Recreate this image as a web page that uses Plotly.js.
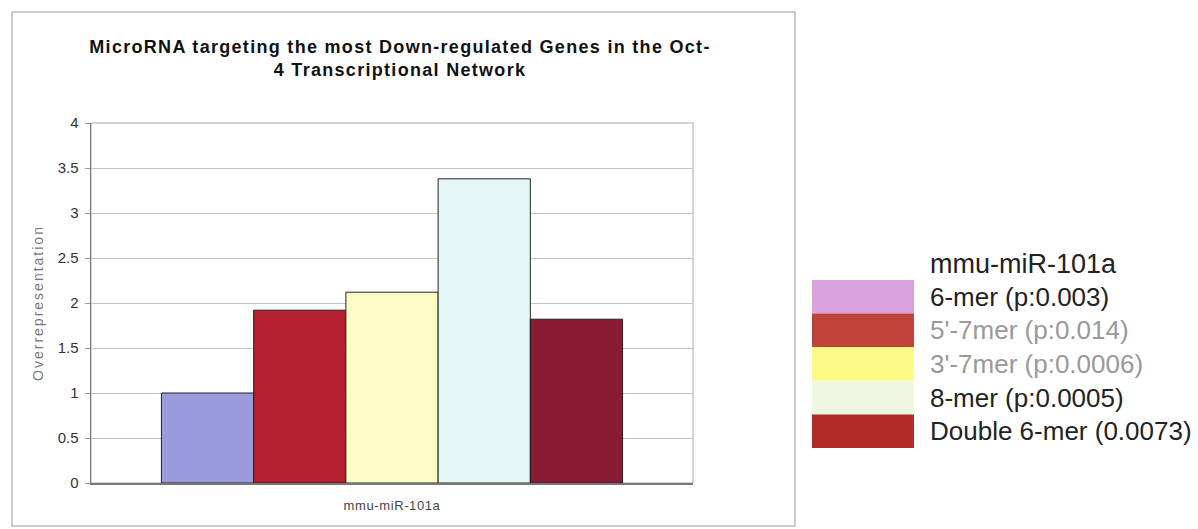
<!DOCTYPE html>
<html><head><meta charset="utf-8">
<script src="https://cdn.plot.ly/plotly-3.0.1.min.js"></script>
<style>
html,body{margin:0;padding:0;background:#fff}#chart{width:1198px;height:529px}
.gtitle{letter-spacing:1.3px}
.ytitle{letter-spacing:2px}
.xtick text{letter-spacing:0.6px}
</style>
</head><body><div id="chart"></div>
<script>
const category = ['mmu-miR-101a'];
const seriesNames = ['6-mer (p:0.003)', "5'-7mer (p:0.014)", "3'-7mer (p:0.0006)", '8-mer (p:0.0005)', 'Double 6-mer (0.0073)'];
const seriesValues = [1.0, 1.92, 2.12, 3.38, 1.82];
const barColors = ['#9b9bdc', '#b4202f', '#fdfcc4', '#e5f6f6', '#8a1935'];
const legendSwatchColors = ['#d9a2dc', '#c0433a', '#fdfb86', '#eef7e0', '#b22a28'];
const legendTextColors = ['#222', '#999', '#999', '#222', '#222'];
const legendHeader = 'mmu-miR-101a';
const yTicks = [0, 0.5, 1, 1.5, 2, 2.5, 3, 3.5, 4];

const L = 91, R = 693, T = 123, B = 483, W = 1198, H = 529;
const px = x => (x - L) / (R - L);
const py = y => (B - y) / (B - T);

const traces = seriesNames.map((n, i) => ({
  type: 'bar', name: n, x: category, y: [seriesValues[i]],
  marker: {color: barColors[i], line: {color: '#222', width: 1}},
  hoverinfo: 'name+y'
}));

const shapes = [
  {type: 'rect', xref: 'paper', yref: 'paper', x0: px(12), x1: px(795), y0: py(526), y1: py(12),
   line: {color: '#bbb', width: 1.5}, fillcolor: 'rgba(0,0,0,0)', layer: 'below'},
  {type: 'rect', xref: 'paper', yref: 'paper', x0: 0, x1: 1, y0: 0, y1: 1,
   line: {color: '#aaa', width: 1}, fillcolor: 'rgba(0,0,0,0)', layer: 'below'}
];
const legendFont = 'Arial, Liberation Sans';
const annotations = [
  {xref: 'paper', yref: 'paper', x: px(928), y: py(264), xanchor: 'left', yanchor: 'middle',
   text: legendHeader, showarrow: false, font: {family: legendFont, size: 27, color: '#222'}}
];
const rowTop = 280, rowH = 33.6;
seriesNames.forEach((n, i) => {
  const y0 = rowTop + i * rowH, y1 = y0 + rowH;
  shapes.push({type: 'rect', xref: 'paper', yref: 'paper', x0: px(812), x1: px(914), y0: py(y1), y1: py(y0),
    line: {width: 0}, fillcolor: legendSwatchColors[i]});
  annotations.push({xref: 'paper', yref: 'paper', x: px(928), y: py((y0 + y1) / 2), xanchor: 'left', yanchor: 'middle',
    text: n, showarrow: false, font: {family: legendFont, size: 26, color: legendTextColors[i]}});
});

const layout = {
  width: W, height: H,
  margin: {l: L, r: W - R, t: T, b: H - B, pad: 0},
  paper_bgcolor: '#fff', plot_bgcolor: '#fff',
  showlegend: false,
  barmode: 'group', bargap: 0.234, bargroupgap: 0,
  title: {text: 'MicroRNA targeting the most Down-regulated Genes in the Oct-<br>4 Transcriptional Network',
    font: {family: 'Arial, Liberation Sans', size: 18, color: '#111', weight: 'bold'},
    x: px(400), xref: 'paper', xanchor: 'center', y: 1 - 53 / H, yref: 'container', yanchor: 'middle'},
  font: {family: 'Arial, Liberation Sans'},
  xaxis: {type: 'category', showline: true, linecolor: '#777', linewidth: 1.5, ticks: '', showgrid: false,
    tickfont: {size: 13, color: '#444'}, ticklabelstandoff: 10, fixedrange: true},
  yaxis: {range: [0, 4], tickvals: yTicks, ticktext: yTicks.map(String), showline: true, linecolor: '#777', linewidth: 1.5,
    ticks: 'outside', ticklen: 5, tickcolor: '#999', gridcolor: '#c4c4c4', gridwidth: 1, zeroline: false,
    tickfont: {size: 15, color: '#333'}, ticklabelstandoff: 3,
    title: {text: 'Overrepresentation', font: {size: 14, color: '#777'}, standoff: 10}},
  shapes: shapes, annotations: annotations
};
Plotly.newPlot('chart', traces, layout, {displayModeBar: false, staticPlot: true});
</script></body></html>
